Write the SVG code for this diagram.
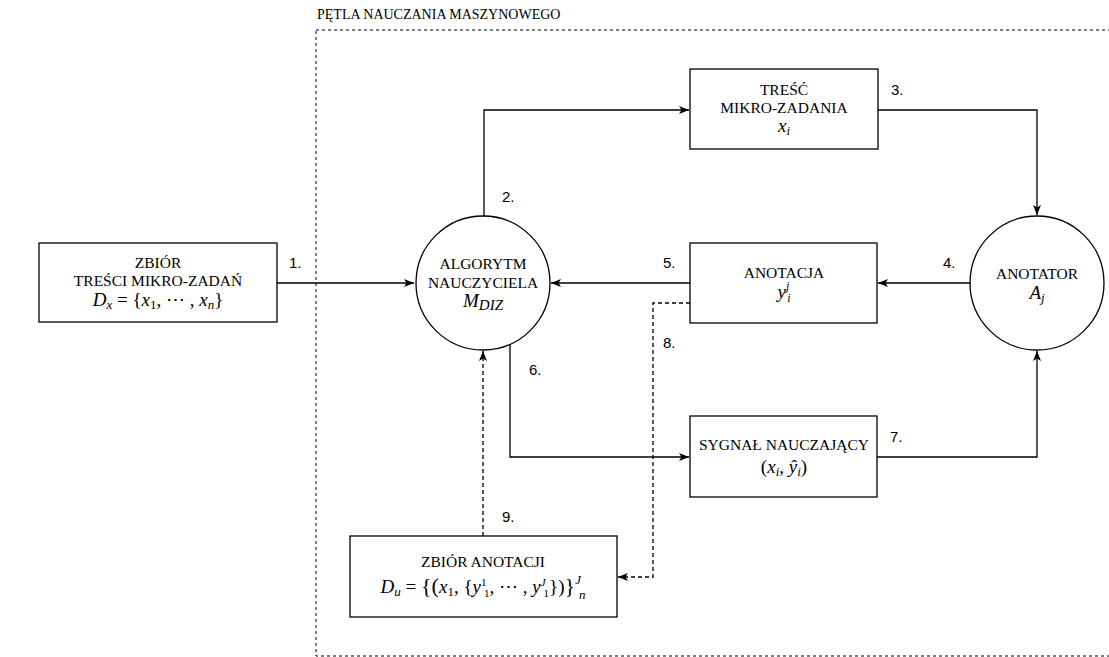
<svg xmlns="http://www.w3.org/2000/svg" width="1109" height="657" viewBox="0 0 1109 657">
  <defs>
    <style>
      .box { fill: #fff; stroke: #000; stroke-width: 1.3; }
      .edge { fill: none; stroke: #000; stroke-width: 1.3; }
      .dash { stroke-dasharray: 4 3; }
      .lbl { font-family: "Liberation Serif", "Times New Roman", serif; font-size: 15.5px; fill: #000; text-anchor: middle; }
      .m { font-family: "Liberation Serif", "Times New Roman", serif; font-size: 19px; fill: #000; text-anchor: middle; }
      .i { font-style: italic; }
      .num { font-family: "Liberation Sans", Arial, sans-serif; font-size: 15px; fill: #000; }
      .title { font-family: "Liberation Serif", "Times New Roman", serif; font-size: 14px; fill: #000; }
    </style>
    <marker id="arr" viewBox="0 0 10 8" refX="10" refY="4" markerWidth="10" markerHeight="8" markerUnits="userSpaceOnUse" orient="auto">
      <path d="M0,0 L10,4 L0,8 L2.5,4 z" fill="#000"/>
    </marker>
  </defs>
  <rect width="1109" height="657" fill="#fff"/>

  <!-- machine learning loop frame -->
  <g id="loop">
    <rect x="316" y="30" width="900" height="626" fill="none" stroke="#000" stroke-width="1" stroke-dasharray="3 3"/>
    <text class="title" x="317" y="19">PĘTLA NAUCZANIA MASZYNOWEGO</text>
  </g>

  <!-- connectors -->
  <g id="connectors">
    <path class="edge" d="M277,283 L414,283" marker-end="url(#arr)"/>
    <path class="edge" d="M484,216 L484,110 L689,110" marker-end="url(#arr)"/>
    <path class="edge" d="M878,110 L1037,110 L1037,215" marker-end="url(#arr)"/>
    <path class="edge" d="M970,283 L878,283" marker-end="url(#arr)"/>
    <path class="edge" d="M690,283 L551,283" marker-end="url(#arr)"/>
    <path class="edge" d="M510,344 L510,457 L689,457" marker-end="url(#arr)"/>
    <path class="edge" d="M877,457 L1037,457 L1037,351" marker-end="url(#arr)"/>
    <path class="edge dash" d="M690,303 L653,303 L653,577 L618,577" marker-end="url(#arr)"/>
    <path class="edge dash" d="M483,536 L483,351" marker-end="url(#arr)"/>

    <text class="num" x="289" y="268">1.</text>
    <text class="num" x="502" y="202">2.</text>
    <text class="num" x="891" y="95">3.</text>
    <text class="num" x="943" y="268">4.</text>
    <text class="num" x="663" y="268">5.</text>
    <text class="num" x="529" y="375">6.</text>
    <text class="num" x="890" y="442">7.</text>
    <text class="num" x="663" y="348">8.</text>
    <text class="num" x="502" y="522">9.</text>
  </g>

  <!-- task content set -->
  <g id="zbior-tresci">
    <rect class="box" x="39" y="243" width="238" height="79"/>
    <text class="lbl" x="158" y="268">ZBIÓR</text>
    <text class="lbl" x="158" y="286">TREŚCI MIKRO-ZADAŃ</text>
    <text class="m" x="158" y="306"><tspan class="i">D</tspan><tspan class="i" font-size="13" dy="3">x</tspan><tspan dy="-3"> = {</tspan><tspan class="i">x</tspan><tspan font-size="13" dy="3">1</tspan><tspan dy="-3">, ⋯ , </tspan><tspan class="i">x</tspan><tspan class="i" font-size="13" dy="3">n</tspan><tspan dy="-3">}</tspan></text>
  </g>

  <!-- teacher algorithm -->
  <g id="algorytm">
    <circle class="box" cx="483" cy="283" r="67"/>
    <text class="lbl" x="483" y="269">ALGORYTM</text>
    <text class="lbl" x="483" y="288">NAUCZYCIELA</text>
    <text class="m" x="483" y="307" font-size="21"><tspan class="i">M</tspan><tspan class="i" font-size="15" dy="3">DIZ</tspan></text>
  </g>

  <!-- micro-task content -->
  <g id="tresc">
    <rect class="box" x="690" y="69" width="188" height="80"/>
    <text class="lbl" x="784" y="95">TREŚĆ</text>
    <text class="lbl" x="784" y="113">MIKRO-ZADANIA</text>
    <text class="m" x="784" y="132"><tspan class="i">x</tspan><tspan class="i" font-size="13" dy="3">i</tspan></text>
  </g>

  <!-- annotator -->
  <g id="anotator">
    <circle class="box" cx="1037" cy="283" r="67"/>
    <text class="lbl" x="1037" y="279">ANOTATOR</text>
    <text class="m" x="1037" y="299"><tspan class="i">A</tspan><tspan class="i" font-size="13" dy="3">j</tspan></text>
  </g>

  <!-- annotation -->
  <g id="anotacja">
    <rect class="box" x="690" y="243" width="187" height="80"/>
    <text class="lbl" x="784" y="278">ANOTACJA</text>
    <text class="m" x="784" y="298"><tspan class="i">y</tspan><tspan class="i" font-size="12" dy="-8">j</tspan><tspan class="i" font-size="12" dx="-2" dy="12">i</tspan></text>
  </g>

  <!-- teaching signal -->
  <g id="sygnal">
    <rect class="box" x="690" y="416" width="187" height="81"/>
    <text class="lbl" x="784" y="450">SYGNAŁ NAUCZAJĄCY</text>
    <text class="m" x="784" y="473">(<tspan class="i">x</tspan><tspan class="i" font-size="13" dy="3">i</tspan><tspan dy="-3">, </tspan><tspan class="i">ŷ</tspan><tspan class="i" font-size="13" dy="3">i</tspan><tspan dy="-3">)</tspan></text>
  </g>

  <!-- annotation set -->
  <g id="zbior-anotacji">
    <rect class="box" x="350" y="536" width="267" height="81"/>
    <text class="lbl" x="483" y="567">ZBIÓR ANOTACJI</text>
    <text class="m" x="483" y="593"><tspan class="i">D</tspan><tspan class="i" font-size="13" dy="3">u</tspan><tspan dy="-3"> = </tspan><tspan font-size="22">{(</tspan><tspan class="i">x</tspan><tspan font-size="13" dy="3">1</tspan><tspan dy="-3">, {</tspan><tspan class="i">y</tspan><tspan font-size="11" dy="-7">1</tspan><tspan font-size="11" dx="-2" dy="11">1</tspan><tspan dy="-4">, ⋯ , </tspan><tspan class="i">y</tspan><tspan class="i" font-size="11" dy="-7">J</tspan><tspan font-size="11" dx="-2" dy="11">1</tspan><tspan dy="-4">})</tspan><tspan font-size="22">}</tspan><tspan class="i" font-size="13" dy="-9">J</tspan><tspan class="i" font-size="13" dx="-2" dy="15">n</tspan></text>
  </g>
</svg>
